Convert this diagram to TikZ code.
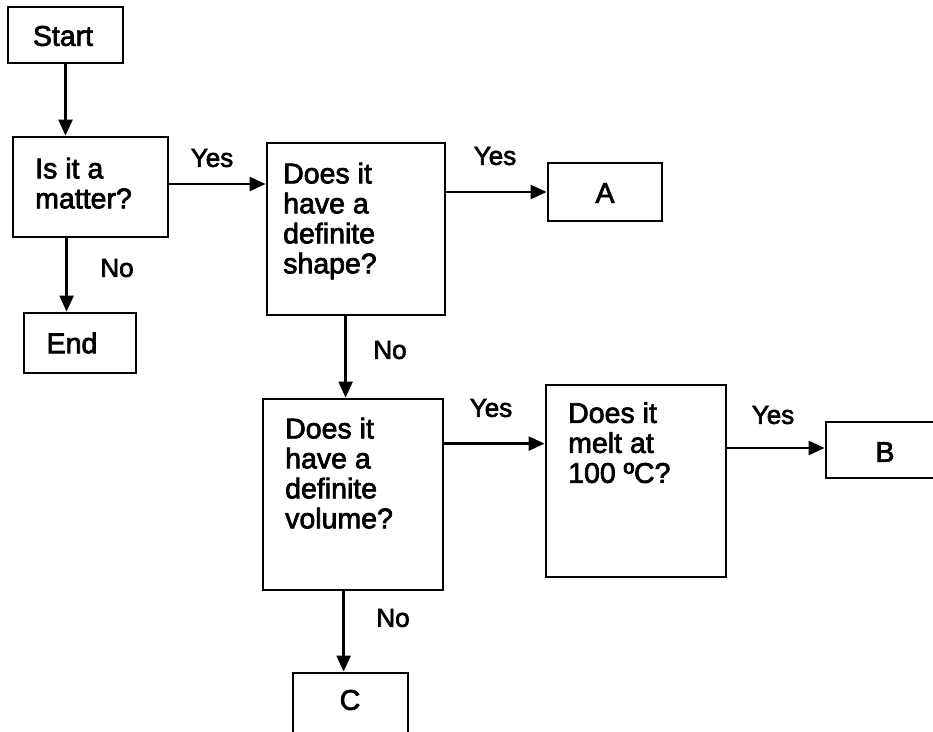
\documentclass[tikz,border=0pt]{standalone}
\usepackage{fontspec}
\setmainfont{Liberation Sans}[FakeBold=2.5]
\newfontfamily\heavyfont{Liberation Sans}[FakeBold=2.5]
\usetikzlibrary{arrows.meta}
\tikzset{
  box/.style={draw, line width=2.8pt, rectangle, inner sep=0pt},
  txt/.style={inner sep=0pt, font=\heavyfont\fontsize{28.5}{30}\selectfont, align=left},
  lbl/.style={inner sep=0pt, font=\heavyfont\fontsize{26}{28}\selectfont},
  arr/.style={line width=2.4pt, -{Triangle[length=16pt,width=14pt]}},
}
\begin{document}
\begin{tikzpicture}[x=1pt,y=-1pt]
\useasboundingbox[fill=white] (0,0) rectangle (933,731);
% boxes
\node[box, minimum width=115pt, minimum height=56pt] (start) at (65.5,35) {};
\node[box, minimum width=155pt, minimum height=100pt] (matter) at (90.5,187) {};
\node[box, minimum width=112pt, minimum height=60pt] (end) at (80,343) {};
\node[box, minimum width=178pt, minimum height=172pt] (shape) at (356,229) {};
\node[box, minimum width=114pt, minimum height=58pt] (A) at (605,192) {};
\node[box, minimum width=180pt, minimum height=191pt] (volume) at (353,494.5) {};
\node[box, minimum width=180pt, minimum height=192pt] (melt) at (636,481) {};
\node[box, minimum width=120pt, minimum height=56pt] (B) at (886,450) {};
\node[box, minimum width=115pt, minimum height=80pt] (C) at (350.5,713) {};
% texts
\node[txt] (startt) at (63,36) {Start};
\node[txt, anchor=north west] (mattert) at (35,157.5) {Is it a\\matter?};
\node[txt] (endt) at (72,343) {End};
\node[txt, anchor=north west] (shapet) at (283,162.5) {Does it\\have a\\definite\\shape?};
\node[txt] (At) at (605,193) {A};
\node[txt, anchor=north west] (volumet) at (285,417.5) {Does it\\have a\\definite\\volume?};
\node[txt, anchor=north west] (meltt) at (568,402) {Does it\\melt at\\100 ºC?};
\node[txt] (Bt) at (885,452) {B};
\node[txt] (Ct) at (350,700) {C};
% connectors
\draw[arr] (start.south) -- (start.south |- matter.north);
\draw[arr] ([yshift=3pt]matter.east) -- ([yshift=3pt]matter.east -| shape.west);
\draw[arr] ([xshift=55pt]matter.south west) -- ([xshift=55pt]matter.south west |- end.north);
\draw[arr] (A.west -| shape.east) -- (A.west);
\draw[arr] ([xshift=80pt]shape.south west) -- ([xshift=80pt]shape.south west |- volume.north);
\draw[arr] ([yshift=-46pt]volume.north east) -- ([yshift=-46pt]volume.north east -| melt.west);
\draw[arr] ([xshift=82pt]volume.south west) -- ([xshift=82pt]volume.south west |- C.north);
\draw[arr] ([yshift=2pt]B.west -| melt.east) -- ([yshift=2pt]B.west);
% labels
\node[lbl] (l1) at (212,158) {Yes};
\node[lbl] (l2) at (495,156) {Yes};
\node[lbl] (l3) at (117,268) {No};
\node[lbl] (l4) at (390,350) {No};
\node[lbl] (l5) at (491,408) {Yes};
\node[lbl] (l6) at (393,618) {No};
\node[lbl] (l7) at (773,415) {Yes};
\end{tikzpicture}
\end{document}
